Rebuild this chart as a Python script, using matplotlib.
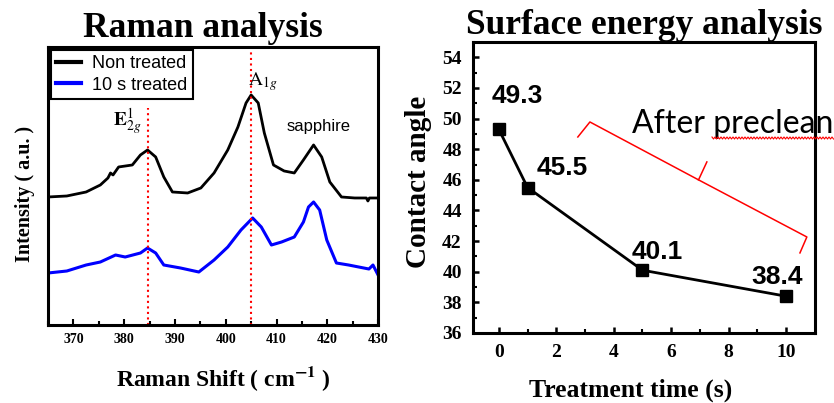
import numpy as np
import matplotlib
matplotlib.use("Agg")
import matplotlib.pyplot as plt
from matplotlib.lines import Line2D

plt.rcParams['mathtext.fontset'] = 'stix'

# Raman spectra (arbitrary intensity units)
shift = [365.0, 368.7, 372.5, 375.3, 376.8, 377.3, 377.8, 378.9, 381.6, 383.2, 384.6, 386.2,
         387.8, 389.5, 392.5, 395.1, 397.7, 400.4, 402.4, 404.0, 405.0, 406.4,
         407.6, 409.4, 411.5, 413.5, 415.3, 417.3, 418.9, 420.5, 422.8, 425.4, 427.7, 428.0, 428.3, 430.0]
non_treated = [128, 129, 133, 140, 147, 152, 150, 158, 160, 170, 175, 168,
               148, 133, 132, 137, 152, 175, 198, 222, 230, 222,
               192, 160, 154, 152, 165, 180, 168, 143, 128, 127, 127, 124, 127, 127]

shift_b = [365.0, 368.7, 372.5, 375.3, 378.3, 380.2, 383.2, 384.6, 386.2, 387.8,
           391.1, 394.7, 397.7, 400.4, 403.0, 405.3, 407.0, 409.0, 411.0, 413.5,
           415.3, 416.3, 417.3, 418.5, 419.9, 421.8, 424.2, 428.2, 429.0, 430.0]
treated_10s = [52, 54, 60, 63, 70, 68, 72, 77, 72, 60,
               57, 53, 65, 78, 95, 107, 98, 80, 83, 88,
               103, 118, 123, 115, 85, 62, 60, 56, 60, 50]

peaks = [384.6, 405.0]

# contact angle
t_treat = [0, 1, 5, 10]
angle = [49.3, 45.5, 40.1, 38.4]
angle_labels = ['49.3', '45.5', '40.1', '38.4']
label_offsets = [(18, 33), (35, 20), (15, 18), (-9, 19)]

serif = 'Liberation Serif'
sans = 'Liberation Sans'

fig = plt.figure(figsize=(8.34, 4.03), dpi=100)

# ---------------- Raman analysis ----------------
ax1 = fig.add_axes([0.0576, 0.1935, 0.3957, 0.690])
ax1.plot(shift, non_treated, color='black', lw=2, label='Non treated')
ax1.plot(shift_b, treated_10s, color='#0000ff', lw=2.2, label='10 s treated')
ax1.axvline(peaks[0], ymin=0, ymax=0.78, color='red', ls=':', lw=1.5)
ax1.axvline(peaks[1], ymin=0, ymax=1, color='red', ls=':', lw=1.5)
ax1.set_xlim(365, 430)
ax1.set_ylim(0, 278)
ax1.set_yticks([])
ax1.set_xticks(np.arange(370, 431, 10))
ax1.set_xticks(np.arange(365, 431, 5), minor=True)
ax1.tick_params(axis='x', which='major', direction='in', length=4, width=1.5, labelsize=10, pad=6)
ax1.tick_params(axis='x', which='minor', direction='in', length=3, width=1.5)
for lab in ax1.get_xticklabels():
    lab.set_family(serif)
    lab.set_weight('bold')
for sp in ax1.spines.values():
    sp.set_linewidth(2.2)

ax1.text(380.6, 203, r'$\mathbf{E}^{1}_{2g}$', fontsize=14, ha='center', va='center')
ax1.text(407.4, 243, r'$\mathrm{A}_{1g}$', fontsize=14, ha='center', va='center')
ax1.text(418.2, 198, 'sapphire', fontsize=12, family=sans, ha='center', va='center')

leg = ax1.legend(loc='upper left', bbox_to_anchor=(0, 1), borderaxespad=0.15,
                 prop={'family': sans, 'size': 13}, fancybox=False, framealpha=1,
                 edgecolor='black', handlelength=1.4, handletextpad=0.6,
                 labelspacing=0.25, borderpad=0.3)
leg.get_frame().set_linewidth(1.5)
for h in leg.get_lines():
    h.set_linewidth(3)

ax1.set_title('Raman analysis', family=serif, weight='bold', fontsize=25.5, pad=7, x=0.47)
ax1.set_xlabel(r'Raman Shift ( cm$^{\mathbf{-1}}$ )', family=serif, weight='bold', fontsize=17)
ax1.xaxis.set_label_coords(0.53, -0.14)
ax1.set_ylabel('Intensity ( a.u. )', family=serif, weight='bold', fontsize=14.5)
ax1.yaxis.set_label_coords(-0.04, 0.47)

# ---------------- Surface energy analysis ----------------
ax2 = fig.add_axes([0.5671, 0.1737, 0.410, 0.722])
ax2.plot(t_treat, angle, color='black', lw=2, marker='s', ms=9)
for xi, yi, s, off in zip(t_treat, angle, angle_labels, label_offsets):
    ax2.annotate(s, (xi, yi), xytext=off, textcoords='offset pixels',
                 ha='center', va='center', fontsize=19, family=sans, weight='bold')
ax2.set_xlim(-0.9, 11)
ax2.set_ylim(36, 55)
ax2.set_xticks(np.arange(0, 11, 2))
ax2.set_xticks(np.arange(1, 11, 2), minor=True)
ax2.set_yticks(np.arange(36, 55, 2))
ax2.set_yticks(np.arange(37, 55, 2), minor=True)
ax2.tick_params(which='major', direction='in', length=4, width=1.8, labelsize=14, pad=8)
ax2.tick_params(which='minor', direction='in', length=3, width=1.5)
for lab in ax2.get_xticklabels() + ax2.get_yticklabels():
    lab.set_family(serif)
    lab.set_weight('bold')
for sp in ax2.spines.values():
    sp.set_linewidth(2.2)

# red brace over the treated points
brace_x = [2.75, 3.17, 6.95, 7.24]
brace_y = [48.8, 49.78, 46.0, 47.17]
ax2.plot(brace_x, brace_y, color='red', lw=1.1, clip_on=False)
ax2.plot([6.95, 10.72, 10.48], [46.0, 42.27, 41.23], color='red', lw=1.1, clip_on=False)
ax2.text(0.465, 0.687, 'After preclean', transform=ax2.transAxes, family='Lato',
         fontsize=23, ha='left', va='baseline', zorder=1, clip_on=False)

ax2.set_title('Surface energy analysis', family=serif, weight='bold', fontsize=25.5, pad=5)
ax2.set_xlabel('Treatment time (s)', family=serif, weight='bold', fontsize=18.5)
ax2.xaxis.set_label_coords(0.46, -0.155)
ax2.set_ylabel('Contact angle', family=serif, weight='bold', fontsize=21)
ax2.yaxis.set_label_coords(-0.12, 0.52)

# spell-check style wavy underline
W, H = 834.0, 403.0
wx = np.arange(712, 834, 1.5)
wy = 138 + np.where(np.arange(len(wx)) % 2 == 0, -1.0, 1.0)
fig.add_artist(Line2D(wx / W, 1 - wy / H, transform=fig.transFigure, color='red', lw=0.8))

fig.savefig('out.png', dpi=100)
